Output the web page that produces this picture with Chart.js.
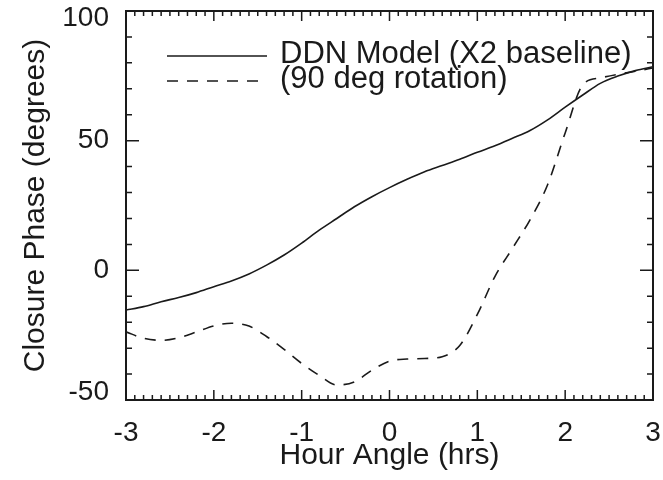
<!DOCTYPE html>
<html>
<head>
<meta charset="utf-8">
<script src="https://cdn.jsdelivr.net/npm/chart.js@4"></script>
<style>
  html, body { margin: 0; padding: 0; background: #fff; }
  #wrap { width: 663px; height: 480px; }
</style>
</head>
<body>
<div id="wrap"><canvas id="phaseChart" width="663" height="480"></canvas></div>
<script>
// values
const hourAngle = [-3.0, -2.8, -2.6, -2.4, -2.2, -2.0, -1.8, -1.6, -1.4, -1.2, -1.0,
                   -0.8, -0.6, -0.4, -0.2, 0.0, 0.2, 0.4, 0.6, 0.8, 1.0,
                   1.2, 1.4, 1.6, 1.8, 2.0, 2.2, 2.4, 2.6, 2.8, 3.0];
const ddnModel = [-15.3, -14.0, -12.1, -10.5, -8.6, -6.3, -4.1, -1.4, 2.0, 5.9, 10.5,
                  15.5, 20.0, 24.5, 28.4, 31.9, 35.1, 38.0, 40.4, 42.8, 45.5,
                  48.0, 50.9, 53.9, 58.0, 62.9, 67.6, 72.1, 74.9, 77.0, 78.5];
const rotated90 = [-23.7, -26.2, -27.0, -26.0, -23.8, -21.4, -20.4, -21.5, -25.5, -30.5, -35.9,
                   -40.5, -44.2, -43.0, -38.5, -35.0, -34.2, -34.0, -33.3, -29.0, -17.0,
                   -2.4, 8.5, 19.5, 33.0, 53.0, 71.5, 74.2, 75.6, 76.8, 78.0];
const seriesNames = ['DDN Model (X2 baseline)', '(90 deg rotation)'];
const xTicks = [-3, -2, -1, 0, 1, 2, 3];
const yTicks = [-50, 0, 50, 100];

const ink = '#1a1a1a';
const family = "'Liberation Sans', Arial, Helvetica, sans-serif";
const tickFont = { family, size: 28 };
const titleFont = { family, size: 30 };

// box around the plot with inward ticks on all four sides
const frameTicks = {
  id: 'frameTicks',
  beforeDraw(chart) {
    // end labels of the y axis sit a little inside, as in the original
    const y = chart.scales.y;
    y.getLabelItems().forEach(item => {
      const t = item.options.translation;
      if (item.label === '100') t[1] = y.getPixelForValue(100) + 7;
      if (item.label === '-50') t[1] = y.getPixelForValue(-50) - 8;
    });
  },
  afterDatasetsDraw(chart) {
    const { ctx, chartArea: a, scales: { x, y } } = chart;
    ctx.save();
    ctx.strokeStyle = ink;
    ctx.lineWidth = 1.5;
    ctx.beginPath();
    // x minor every 0.1, major every 1
    for (let i = -30; i <= 30; i++) {
      const px = x.getPixelForValue(i / 10);
      const len = i % 10 === 0 ? 10 : 5;
      ctx.moveTo(px, a.bottom); ctx.lineTo(px, a.bottom - len);
      ctx.moveTo(px, a.top); ctx.lineTo(px, a.top + len);
    }
    // y minor every 10, major every 50
    for (let v = -50; v <= 100; v += 10) {
      const py = y.getPixelForValue(v);
      const len = v % 50 === 0 ? 13 : 6;
      ctx.moveTo(a.left, py); ctx.lineTo(a.left + len, py);
      ctx.moveTo(a.right, py); ctx.lineTo(a.right - len, py);
    }
    ctx.stroke();
    ctx.lineWidth = 2;
    ctx.strokeRect(a.left, a.top, a.right - a.left, a.bottom - a.top);
    ctx.restore();
  }
};

// legend drawn inside the plot, top left
const insideLegend = {
  id: 'insideLegend',
  afterDraw(chart) {
    const { ctx } = chart;
    const rows = [54, 79];
    ctx.save();
    ctx.font = '31px ' + family;
    ctx.fillStyle = ink;
    ctx.textBaseline = 'middle';
    chart.data.datasets.forEach((ds, i) => {
      const yy = rows[i];
      ctx.strokeStyle = ds.borderColor;
      ctx.lineWidth = ds.borderWidth;
      ctx.setLineDash(ds.borderDash || []);
      ctx.beginPath();
      ctx.moveTo(167, yy + 2);
      ctx.lineTo(267, yy + 2);
      ctx.stroke();
      ctx.setLineDash([]);
      ctx.fillText(ds.label, 280, yy);
    });
    ctx.restore();
  }
};

const ctx = document.getElementById('phaseChart').getContext('2d');
new Chart(ctx, {
  type: 'line',
  data: {
    labels: hourAngle,
    datasets: [
      {
        label: seriesNames[0],
        data: hourAngle.map((h, i) => ({ x: h, y: ddnModel[i] })),
        borderColor: ink,
        borderWidth: 1.6,
        pointRadius: 0,
        cubicInterpolationMode: 'monotone',
        fill: false
      },
      {
        label: seriesNames[1],
        data: hourAngle.map((h, i) => ({ x: h, y: rotated90[i] })),
        borderColor: ink,
        borderWidth: 1.6,
        borderDash: [11, 9],
        pointRadius: 0,
        cubicInterpolationMode: 'monotone',
        fill: false
      }
    ]
  },
  options: {
    responsive: false,
    devicePixelRatio: 1,
    animation: false,
    layout: { padding: { top: 11, right: 10, left: 0, bottom: 0 } },
    plugins: { legend: { display: false }, tooltip: { enabled: false } },
    scales: {
      x: {
        type: 'linear',
        min: -3, max: 3,
        afterBuildTicks: s => { s.ticks = xTicks.map(v => ({ value: v })); },
        afterFit: s => { s.height = 80; s.paddingLeft = 0; s.paddingRight = 0; },
        grid: { display: false },
        border: { display: false },
        ticks: { font: tickFont, color: ink, padding: 8, maxRotation: 0 },
        title: { display: true, text: 'Hour Angle (hrs)', font: titleFont, color: ink, padding: { top: 0, bottom: 6 } }
      },
      y: {
        min: -50, max: 100,
        afterBuildTicks: s => { s.ticks = yTicks.map(v => ({ value: v })); },
        afterFit: s => { s.width = 126; s.paddingTop = 0; s.paddingBottom = 0; },
        grid: { display: false },
        border: { display: false },
        ticks: { font: tickFont, color: ink, padding: 9 },
        title: { display: true, text: 'Closure Phase (degrees)', font: titleFont, color: ink, padding: { top: 18, bottom: 0 } }
      }
    }
  },
  plugins: [frameTicks, insideLegend]
});
</script>
</body>
</html>
